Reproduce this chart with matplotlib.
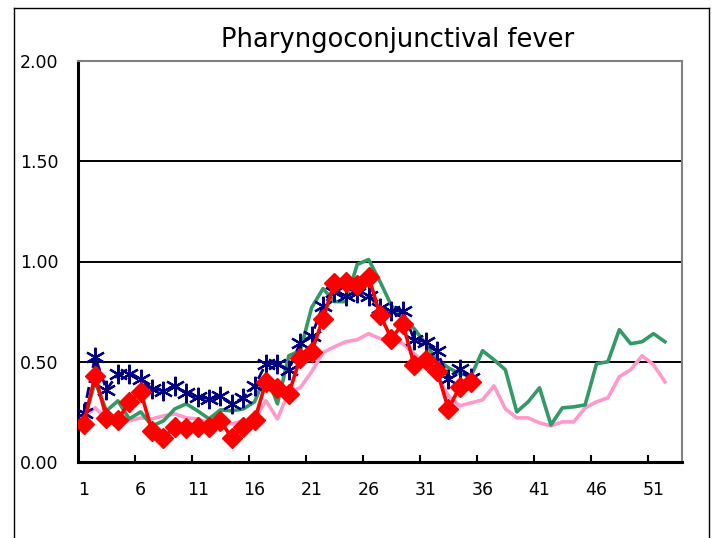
import matplotlib
matplotlib.use("Agg")
import matplotlib.pyplot as plt
from matplotlib.lines import Line2D
import numpy as np

# weekly values (per sentinel site)
weeks_all = np.arange(1, 53)
weeks_cur = np.arange(1, 36)

pink = [0.22, 0.27, 0.215, 0.215, 0.205, 0.22, 0.215, 0.23, 0.24, 0.22,
        0.215, 0.195, 0.22, 0.19, 0.205, 0.215, 0.305, 0.215, 0.35, 0.37,
        0.45, 0.545, 0.575, 0.60, 0.61, 0.64, 0.615, 0.615, 0.59, 0.54,
        0.49, 0.43, 0.33, 0.28, 0.295, 0.31, 0.38, 0.265, 0.22, 0.22,
        0.195, 0.18, 0.20, 0.20, 0.27, 0.30, 0.32, 0.425, 0.46, 0.53,
        0.485, 0.40]
green = [0.20, 0.40, 0.255, 0.305, 0.215, 0.25, 0.18, 0.205, 0.265, 0.29,
         0.255, 0.215, 0.26, 0.255, 0.265, 0.30, 0.44, 0.29, 0.53, 0.555,
         0.77, 0.865, 0.80, 0.80, 0.985, 1.01, 0.90, 0.78, 0.72, 0.665,
         0.59, 0.51, 0.47, 0.44, 0.43, 0.555, 0.51, 0.46, 0.25, 0.30,
         0.37, 0.185, 0.27, 0.275, 0.285, 0.49, 0.50, 0.66, 0.59, 0.60,
         0.64, 0.60]
navy = [0.245, 0.525, 0.36, 0.44, 0.44, 0.415, 0.365, 0.355, 0.38, 0.345,
        0.325, 0.315, 0.33, 0.29, 0.32, 0.38, 0.49, 0.49, 0.46, 0.595,
        0.63, 0.78, 0.85, 0.83, 0.845, 0.83, 0.77, 0.755, 0.755, 0.61,
        0.60, 0.555, 0.415, 0.465, 0.42]
red = [0.19, 0.43, 0.22, 0.21, 0.30, 0.35, 0.155, 0.12, 0.175, 0.17,
       0.175, 0.175, 0.205, 0.12, 0.175, 0.21, 0.40, 0.37, 0.34, 0.52,
       0.55, 0.715, 0.895, 0.90, 0.885, 0.925, 0.735, 0.615, 0.69, 0.485,
       0.51, 0.455, 0.265, 0.375, 0.40]

xlabels = [1, 6, 11, 16, 21, 26, 31, 36, 41, 46, 51]
yticks = [0.0, 0.5, 1.0, 1.5, 2.0]

fig = plt.figure(figsize=(7.18, 5.38), dpi=100)
ax = fig.add_axes([78 / 718, 1 - 462 / 538, 604 / 718, 401 / 538])

ax.plot(weeks_all, pink, color="#FF99CC", lw=2.6, zorder=3)
ax.plot(weeks_all, green, color="#339966", lw=2.6, zorder=4)
ax.plot(weeks_cur, navy, color="#000080", lw=2.0, ls=(0, (4, 1.5)),
        marker=(6, 2, 0), ms=14, mew=1.6, zorder=5)
ax.plot(weeks_cur, red, color="#FF0000", lw=2.6,
        marker="D", ms=10, mec="#FF0000", zorder=6)

ax.set_xlim(0.5, 53.5)
ax.set_ylim(0, 2)

ax.set_yticks(yticks)
ax.set_yticklabels([f"{v:.2f}" for v in yticks])
ax.tick_params(axis="y", length=0, pad=14, labelsize=12.5)
for v in yticks[1:-1]:
    ax.axhline(v, color="black", lw=1.4, zorder=1)

ax.set_xticks(xlabels)
ax.set_xticklabels([str(v) for v in xlabels])
ax.set_xticks(np.arange(5.5, 53, 5), minor=True)
ax.tick_params(axis="x", which="major", length=0, pad=14, labelsize=12.5)
ax.tick_params(axis="x", which="minor", direction="in", length=5, width=1.5,
               color="black")

for s in ["left", "bottom"]:
    ax.spines[s].set_color("black")
    ax.spines[s].set_linewidth(2.2)
for s in ["top", "right"]:
    ax.spines[s].set_color("#808080")
    ax.spines[s].set_linewidth(1.5)

fig.text(398 / 718, 1 - 40 / 538, "Pharyngoconjunctival fever",
         ha="center", va="center", fontsize=18.5)

# outer frame (open at the bottom)
fx0, fx1, fy1 = 13.5 / 718, 708.5 / 718, 1 - 7.5 / 538
for xs, ys in [([fx0, fx0], [0, fy1]), ([fx0, fx1], [fy1, fy1]),
               ([fx1, fx1], [fy1, 0])]:
    fig.add_artist(Line2D(xs, ys, transform=fig.transFigure,
                          color="black", lw=1.0))

fig.savefig("out.png", dpi=100)
